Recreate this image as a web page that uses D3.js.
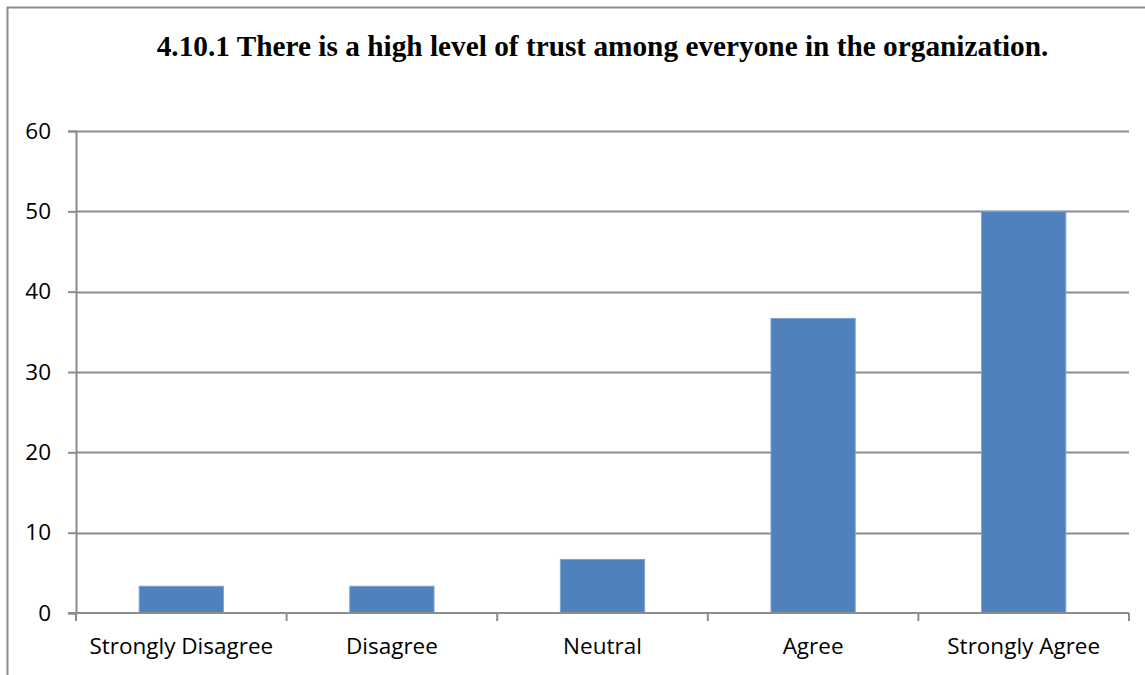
<!DOCTYPE html>
<html>
<head>
<meta charset="utf-8">
<script src="https://cdn.jsdelivr.net/npm/d3@7"></script>
<style>
  html, body { margin: 0; padding: 0; background: #fff; }
  svg { display: block; }
</style>
</head>
<body>
<svg id="chart" width="1145" height="675"></svg>
<script>
// Survey responses (percent) for item 4.10.1
const categories = ["Strongly Disagree", "Disagree", "Neutral", "Agree", "Strongly Agree"];
const values = [3.33, 3.33, 6.67, 36.67, 50];
const yTicks = [0, 10, 20, 30, 40, 50, 60];
const titleText = "4.10.1 There is a high level of trust among everyone in the organization.";

const W = 1145, H = 675;
const margin = { left: 76, right: 16, top: 131, bottom: 62 };
const labelFont = "'Open Sans', Lato, sans-serif";
const labelSize = "22.5px";
const svg = d3.select("#chart");

// chart frame (top and left edges visible)
svg.append("path")
  .attr("d", `M7.5,${H} V7.5 H${W}`)
  .attr("fill", "none")
  .attr("stroke", "#8c8c8c")
  .attr("stroke-width", 2);

const x = d3.scaleBand()
  .domain(categories)
  .range([margin.left, W - margin.right])
  .paddingInner(0.6)
  .paddingOuter(0.3);

const y = d3.scaleLinear()
  .domain([0, 60])
  .range([H - margin.bottom, margin.top]);

// horizontal gridlines
svg.append("g")
  .selectAll("line")
  .data(yTicks.filter(d => d > 0))
  .join("line")
  .attr("x1", margin.left)
  .attr("x2", W - margin.right)
  .attr("y1", d => Math.round(y(d)) + 0.5)
  .attr("y2", d => Math.round(y(d)) + 0.5)
  .attr("stroke", "#8c8c8c")
  .attr("stroke-width", 2);

// bars
svg.append("g")
  .selectAll("rect")
  .data(values)
  .join("rect")
  .attr("x", (d, i) => x(categories[i]))
  .attr("width", x.bandwidth())
  .attr("y", d => y(d))
  .attr("height", d => y(0) - y(d))
  .attr("fill", "#4f81bd")
  .attr("stroke", "#7ea3d0")
  .attr("stroke-width", 1);

// y axis
const yAxis = d3.axisLeft(y)
  .tickValues(yTicks)
  .tickSize(8)
  .tickPadding(17)
  .tickFormat(d3.format("d"));
const gy = svg.append("g")
  .attr("transform", `translate(${margin.left},0)`)
  .call(yAxis);
gy.select(".domain").attr("stroke", "#8c8c8c").attr("stroke-width", 2);
gy.selectAll(".tick line").attr("stroke", "#8c8c8c").attr("stroke-width", 2);
gy.selectAll(".tick text")
  .attr("fill", "#000")
  .style("font-family", labelFont)
  .style("font-size", labelSize);

// x axis: category boundaries as tick marks, labels centred under bars
const bounds = d3.range(categories.length + 1);
const xb = d3.scaleLinear()
  .domain([0, categories.length])
  .range([margin.left, W - margin.right]);
const gx = svg.append("g")
  .attr("transform", `translate(0,${y(0)})`);
gx.append("line")
  .attr("x1", margin.left - 8)
  .attr("x2", W - margin.right)
  .attr("stroke", "#8c8c8c")
  .attr("stroke-width", 2);
gx.selectAll(".bound")
  .data(bounds)
  .join("line")
  .attr("class", "bound")
  .attr("x1", d => xb(d))
  .attr("x2", d => xb(d))
  .attr("y1", 0)
  .attr("y2", 8)
  .attr("stroke", "#8c8c8c")
  .attr("stroke-width", 2);
gx.selectAll(".lbl")
  .data(categories)
  .join("text")
  .attr("class", "lbl")
  .attr("x", d => x(d) + x.bandwidth() / 2)
  .attr("y", 41)
  .attr("text-anchor", "middle")
  .attr("fill", "#000")
  .style("font-family", labelFont)
  .style("font-size", labelSize)
  .text(d => d);

// title
svg.append("text")
  .attr("x", 602.5)
  .attr("y", 56)
  .attr("text-anchor", "middle")
  .style("font-family", "'Liberation Serif', 'Times New Roman', serif")
  .style("font-weight", "bold")
  .style("font-size", "29.3px")
  .attr("fill", "#000")
  .text(titleText);
</script>
</body>
</html>
